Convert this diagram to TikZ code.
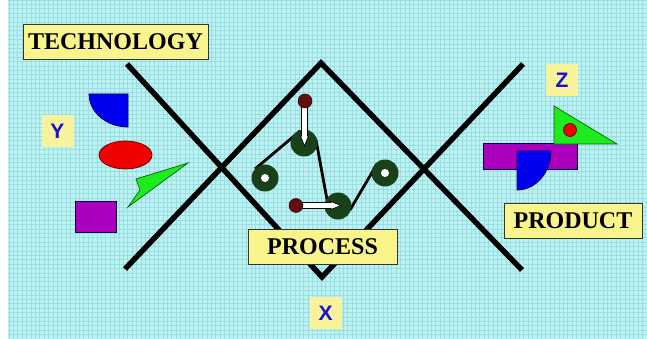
\documentclass[tikz,border=0pt]{standalone}
\usepackage{fontspec}
\setmainfont{Liberation Serif}
\setsansfont{Liberation Sans}
\definecolor{bgcyan}{RGB}{188,242,242}
\definecolor{gridcyan}{RGB}{155,222,226}
\definecolor{labelyellow}{RGB}{250,244,140}
\definecolor{axisyellow}{RGB}{248,242,155}
\definecolor{axisblue}{RGB}{20,20,210}
\definecolor{shapeblue}{RGB}{0,0,240}
\definecolor{shapered}{RGB}{240,0,0}
\definecolor{shapegreen}{RGB}{30,235,30}
\definecolor{shapemagenta}{RGB}{170,0,190}
\definecolor{pulleygreen}{RGB}{25,65,25}
\definecolor{ballred}{RGB}{100,15,15}
\begin{document}
\begin{tikzpicture}[x=1pt,y=-1pt,
  labelbox/.style={draw=black!80, line width=0.9pt, fill=labelyellow, inner sep=0pt,
    minimum height=35pt, font=\fontsize{24}{24}\selectfont\bfseries},
  axisbox/.style={fill=axisyellow, inner sep=0pt, minimum size=32pt, text=axisblue,
    font=\fontsize{21}{21}\selectfont\sffamily\bfseries},
  xline/.style={line width=5.4pt, line join=miter, black},
  shapeedge/.style={draw=black!70!blue, line width=0.7pt},
  belt/.style={line width=2.8pt, black},
  pulley/.style={circle, fill=pulleygreen, minimum size=27pt, inner sep=0pt},
  hole/.style={circle, fill=white, minimum size=8pt, inner sep=0pt},
  ball/.style={circle, fill=ballred, draw=black!60!ballred, line width=0.5pt, minimum size=14pt, inner sep=0pt},
  rod/.style={fill=white, draw=black, line width=0.7pt, line join=miter}]

% page and textured background
\useasboundingbox (0,0) rectangle (647,339);
\fill[white] (0,0) rectangle (647,339);
\fill[bgcyan] (8,0) rectangle (647,339);
\draw[gridcyan, line width=0.6pt] (8,0) grid[step=4.4pt] (647,339);

% the crossing V and inverted V
\draw[xline] (127,64) -- (322,277) -- (523,64);
\draw[xline] (125,269) -- (321,63) -- (522,270);

% shapes on the technology side
\draw[shapeedge, fill=shapeblue] (128,94) -- (89,94) arc[start angle=180, end angle=90, x radius=39, y radius=33] -- cycle;
\draw[shapeedge, draw=black!60!red, fill=shapered] (125.5,155) ellipse [x radius=26.5, y radius=14];
\draw[shapeedge, draw=black!60!green, fill=shapegreen] (136,179) -- (188,163) -- (128,207) -- (140,190) -- cycle;
\draw[shapeedge, fill=shapemagenta] (75,201) rectangle (116,232);

% shapes on the product side
\draw[shapeedge, fill=shapemagenta] (483,143) rectangle (577,169);
\draw[shapeedge, draw=black!60!green, fill=shapegreen] (554,106) -- (554,144) -- (617,144) -- cycle;
\draw[shapeedge, draw=black!60!red, fill=shapered] (570,130) circle[radius=6.5];
\draw[shapeedge, fill=shapeblue] (517,151) -- (551,151) arc[start angle=0, end angle=90, x radius=34, y radius=39] -- cycle;

% belt runs between the pulleys
\coordinate (b1s) at (255,169);
\coordinate (b1e) at (300,131);
\coordinate (b2s) at (316,140);
\coordinate (b2e) at (328,205);
\coordinate (b3s) at (350,210);
\coordinate (b3e) at (377,164);
\draw[belt] (b1s) -- (b1e);
\draw[belt] (b2s) -- (b2e);
\draw[belt] (b3s) -- (b3e);

% pulleys
\node[pulley] (p1) at (304,143) {};
\node[pulley] (p2) at (265,178) {};
\node[pulley] (p3) at (338,206) {};
\node[pulley] (p4) at (385,173) {};
\node[hole] (h2) at (p2) {};
\node[hole] (h4) at (p4) {};

% push rods with their tips on the pulleys
\draw[rod] (301.5,104) -- (307.5,104) -- (307.5,136) -- (308.5,136) -- (304.5,146) -- (300.5,136) -- (301.5,136) -- cycle;
\draw[rod] (299,202.5) -- (331,202.5) -- (331,201.5) -- (341,205.5) -- (331,209.5) -- (331,208.5) -- (299,208.5) -- cycle;
\node[ball] (k1) at (305,101) {};
\node[ball] (k2) at (296,205.5) {};

% labels
\node[labelbox, minimum width=185pt] (tech) at (115.5,41.5) {TECHNOLOGY};
\node[labelbox, minimum width=149pt] (proc) at (322.5,246.5) {PROCESS};
\node[labelbox, minimum width=138pt] (prod) at (573,220.5) {PRODUCT};
\node[axisbox] (ax) at (325.5,313) {X};
\node[axisbox] (ay) at (57.5,131) {Y};
\node[axisbox] (az) at (562,80) {Z};
\end{tikzpicture}
\end{document}
